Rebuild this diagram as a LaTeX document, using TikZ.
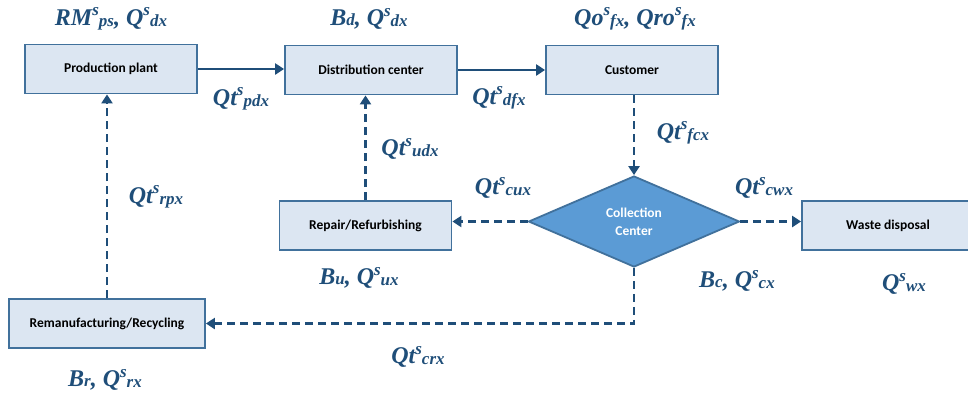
\documentclass[tikz,border=0pt]{standalone}
\usepackage{fontspec}
\setmainfont{Liberation Serif}
\newfontfamily\boxfont{Carlito}
\usetikzlibrary{shapes.geometric,arrows.meta}

\definecolor{boxfill}{HTML}{DCE6F2}
\definecolor{boxline}{HTML}{41719C}
\definecolor{diafill}{HTML}{5B9BD5}
\definecolor{flow}{HTML}{1F4E79}

% variable with superscript and trailing index, e.g. \sv{Qt}{s}{pdx}
\newcommand{\sv}[3]{#1\raisebox{0.40em}{\fontsize{17}{17}\selectfont #2}{\fontsize{17}{17}\selectfont\raisebox{-0.06em}{#3}}}
\newcommand{\ix}[2]{#1{\fontsize{17}{17}\selectfont #2}}

\tikzset{
  stage/.style={rectangle, draw=boxline, fill=boxfill, line width=1.8pt,
    minimum width=172pt, minimum height=49pt, inner sep=0pt,
    font=\boxfont\bfseries\fontsize{13.5}{15}\selectfont, text=black},
  hub/.style={diamond, draw=boxline, fill=diafill, line width=1.8pt,
    minimum width=211pt, minimum height=91pt, inner sep=0pt, align=center,
    font=\boxfont\bfseries\fontsize{13.5}{18}\selectfont, text=white},
  var/.style={font=\bfseries\itshape\fontsize{24}{26}\selectfont, text=flow, inner sep=0pt},
  fwd/.style={draw=flow, line width=2.5pt, -{Triangle[length=9pt,width=11pt]}},
  rev/.style={fwd, dash pattern=on 8pt off 5pt},
}

\begin{document}
\begin{tikzpicture}[x=1pt, y=-1pt]
\useasboundingbox (0,0) rectangle (968,392);

% stages of the chain
\node[stage] (pp) at (111,69) {Production plant};
\node[stage] (dc) at (371,70) {Distribution center};
\node[stage] (cu) at (632,70) {Customer};
\node[hub]   (cc) at (634,221.5) {Collection\\Center};
\node[stage] (rr) at (365.5,225.5) {Repair/Refurbishing};
\node[stage] (wd) at (888,225.5) {Waste disposal};
\node[stage, minimum width=196pt] (rm) at (107,323.5) {Remanufacturing/Recycling};

% forward flows
\draw[fwd] (pp.east) -- (pp.east -| dc.west);
\draw[fwd] (dc.east) -- (dc.east -| cu.west);

% reverse flows
\draw[rev] (cc.north |- cu.south) -- (cc.north);
\draw[rev] (cc.west) -- (cc.west -| rr.east);
\draw[rev] (cc.east) -- (cc.east -| wd.west);
\draw[rev] (rr.north) -- (rr.north |- dc.south);
\draw[rev] (rm.north) -- (rm.north |- pp.south);
\draw[rev] (cc.south) |- (rm.east);

% decision variables
\node[var] (v1)  at (111,19)  {\sv{RM}{s}{ps}, \sv{Q}{s}{dx}};
\node[var] (v2)  at (241,99)  {\sv{Qt}{s}{pdx}};
\node[var] (v3)  at (369,19)  {\ix{B}{d}, \sv{Q}{s}{dx}};
\node[var] (v4)  at (635,19)  {\sv{Qo}{s}{fx}, \sv{Qro}{s}{fx}};
\node[var] (v5)  at (499,98)  {\sv{Qt}{s}{dfx}};
\node[var] (v6)  at (683,133) {\sv{Qt}{s}{fcx}};
\node[var] (v7)  at (410,149) {\sv{Qt}{s}{udx}};
\node[var] (v8)  at (156,197) {\sv{Qt}{s}{rpx}};
\node[var] (v9)  at (503,188) {\sv{Qt}{s}{cux}};
\node[var] (v10) at (764,188) {\sv{Qt}{s}{cwx}};
\node[var] (v11) at (359,278) {\ix{B}{u}, \sv{Q}{s}{ux}};
\node[var] (v12) at (737,281) {\ix{B}{c}, \sv{Q}{s}{cx}};
\node[var] (v13) at (904,284) {\sv{Q}{s}{wx}};
\node[var] (v14) at (418,357) {\sv{Qt}{s}{crx}};
\node[var] (v15) at (105,380) {\ix{B}{r}, \sv{Q}{s}{rx}};
\end{tikzpicture}
\end{document}
